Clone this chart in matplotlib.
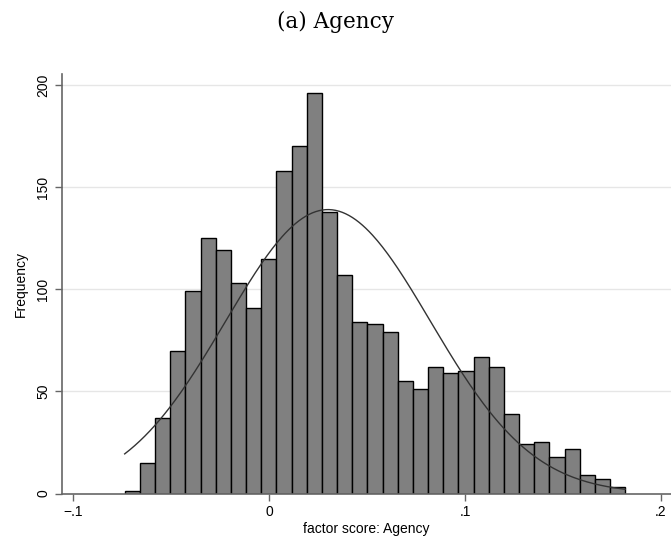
import numpy as np
import matplotlib.pyplot as plt

# histogram of factor score: Agency
bin_start = -0.0738
bin_width = 0.007745
counts = [1, 15, 37, 70, 99, 125, 119, 103, 91, 115, 158, 170, 196, 138, 107,
          84, 83, 79, 55, 51, 62, 59, 60, 67, 62, 39, 24, 25, 18, 22, 9, 7, 3]
# normal overlay parameters
score_mean = 0.030
score_sd = 0.0523

x_ticks = [-0.1, 0, 0.1, 0.2]
x_ticklabels = ['\u2212.1', '0', '.1', '.2']
y_ticks = [0, 50, 100, 150, 200]


def normal_curve(n, width, mu, sd, lo, hi):
    xs = np.linspace(lo, hi, 300)
    ys = n * width * np.exp(-0.5 * ((xs - mu) / sd) ** 2) / (sd * np.sqrt(2 * np.pi))
    return xs, ys


fig = plt.figure(figsize=(6.71, 5.47), dpi=100)
ax = fig.add_axes([62 / 671, (547 - 493.5) / 547, (671 - 62) / 671, (493.5 - 74) / 547])

lefts = bin_start + bin_width * np.arange(len(counts))
ax.bar(lefts, counts, width=bin_width, align='edge', color='#808080',
       edgecolor='black', linewidth=1.0, zorder=2)

lo = bin_start
hi = bin_start + bin_width * len(counts)
xs, ys = normal_curve(sum(counts), bin_width, score_mean, score_sd, lo, hi)
ax.plot(xs, ys, color='#333333', linewidth=1.0, zorder=3)

ax.set_xlim(-0.1058, 0.2051)
ax.set_ylim(0, 205.4)
ax.set_xticks(x_ticks)
ax.set_xticklabels(x_ticklabels)
ax.set_yticks(y_ticks)
ax.set_yticklabels([str(v) for v in y_ticks], rotation=90, va='center')

for v in y_ticks[1:]:
    ax.axhline(v, color='#e6e6e6', linewidth=1.0, zorder=1)

for s in ['top', 'right']:
    ax.spines[s].set_visible(False)
for s in ['left', 'bottom']:
    ax.spines[s].set_color('#666666')
    ax.spines[s].set_linewidth(1.2)
ax.spines['left'].set_zorder(4)
ax.tick_params(axis='both', direction='out', length=5, width=1.0, color='#666666',
               labelsize=10, labelcolor='black')

ax.set_xlabel('factor score: Agency', fontsize=10, labelpad=2)
ax.set_ylabel('Frequency', fontsize=10, labelpad=6)
for t in ax.get_xticklabels() + ax.get_yticklabels() + [ax.xaxis.label, ax.yaxis.label]:
    t.set_family('Liberation Sans')

fig.text(0.5, 1 - 22 / 547, '(a) Agency', ha='center', va='center',
         fontsize=15.5, family='DejaVu Serif')

fig.savefig('out.png', dpi=100)
